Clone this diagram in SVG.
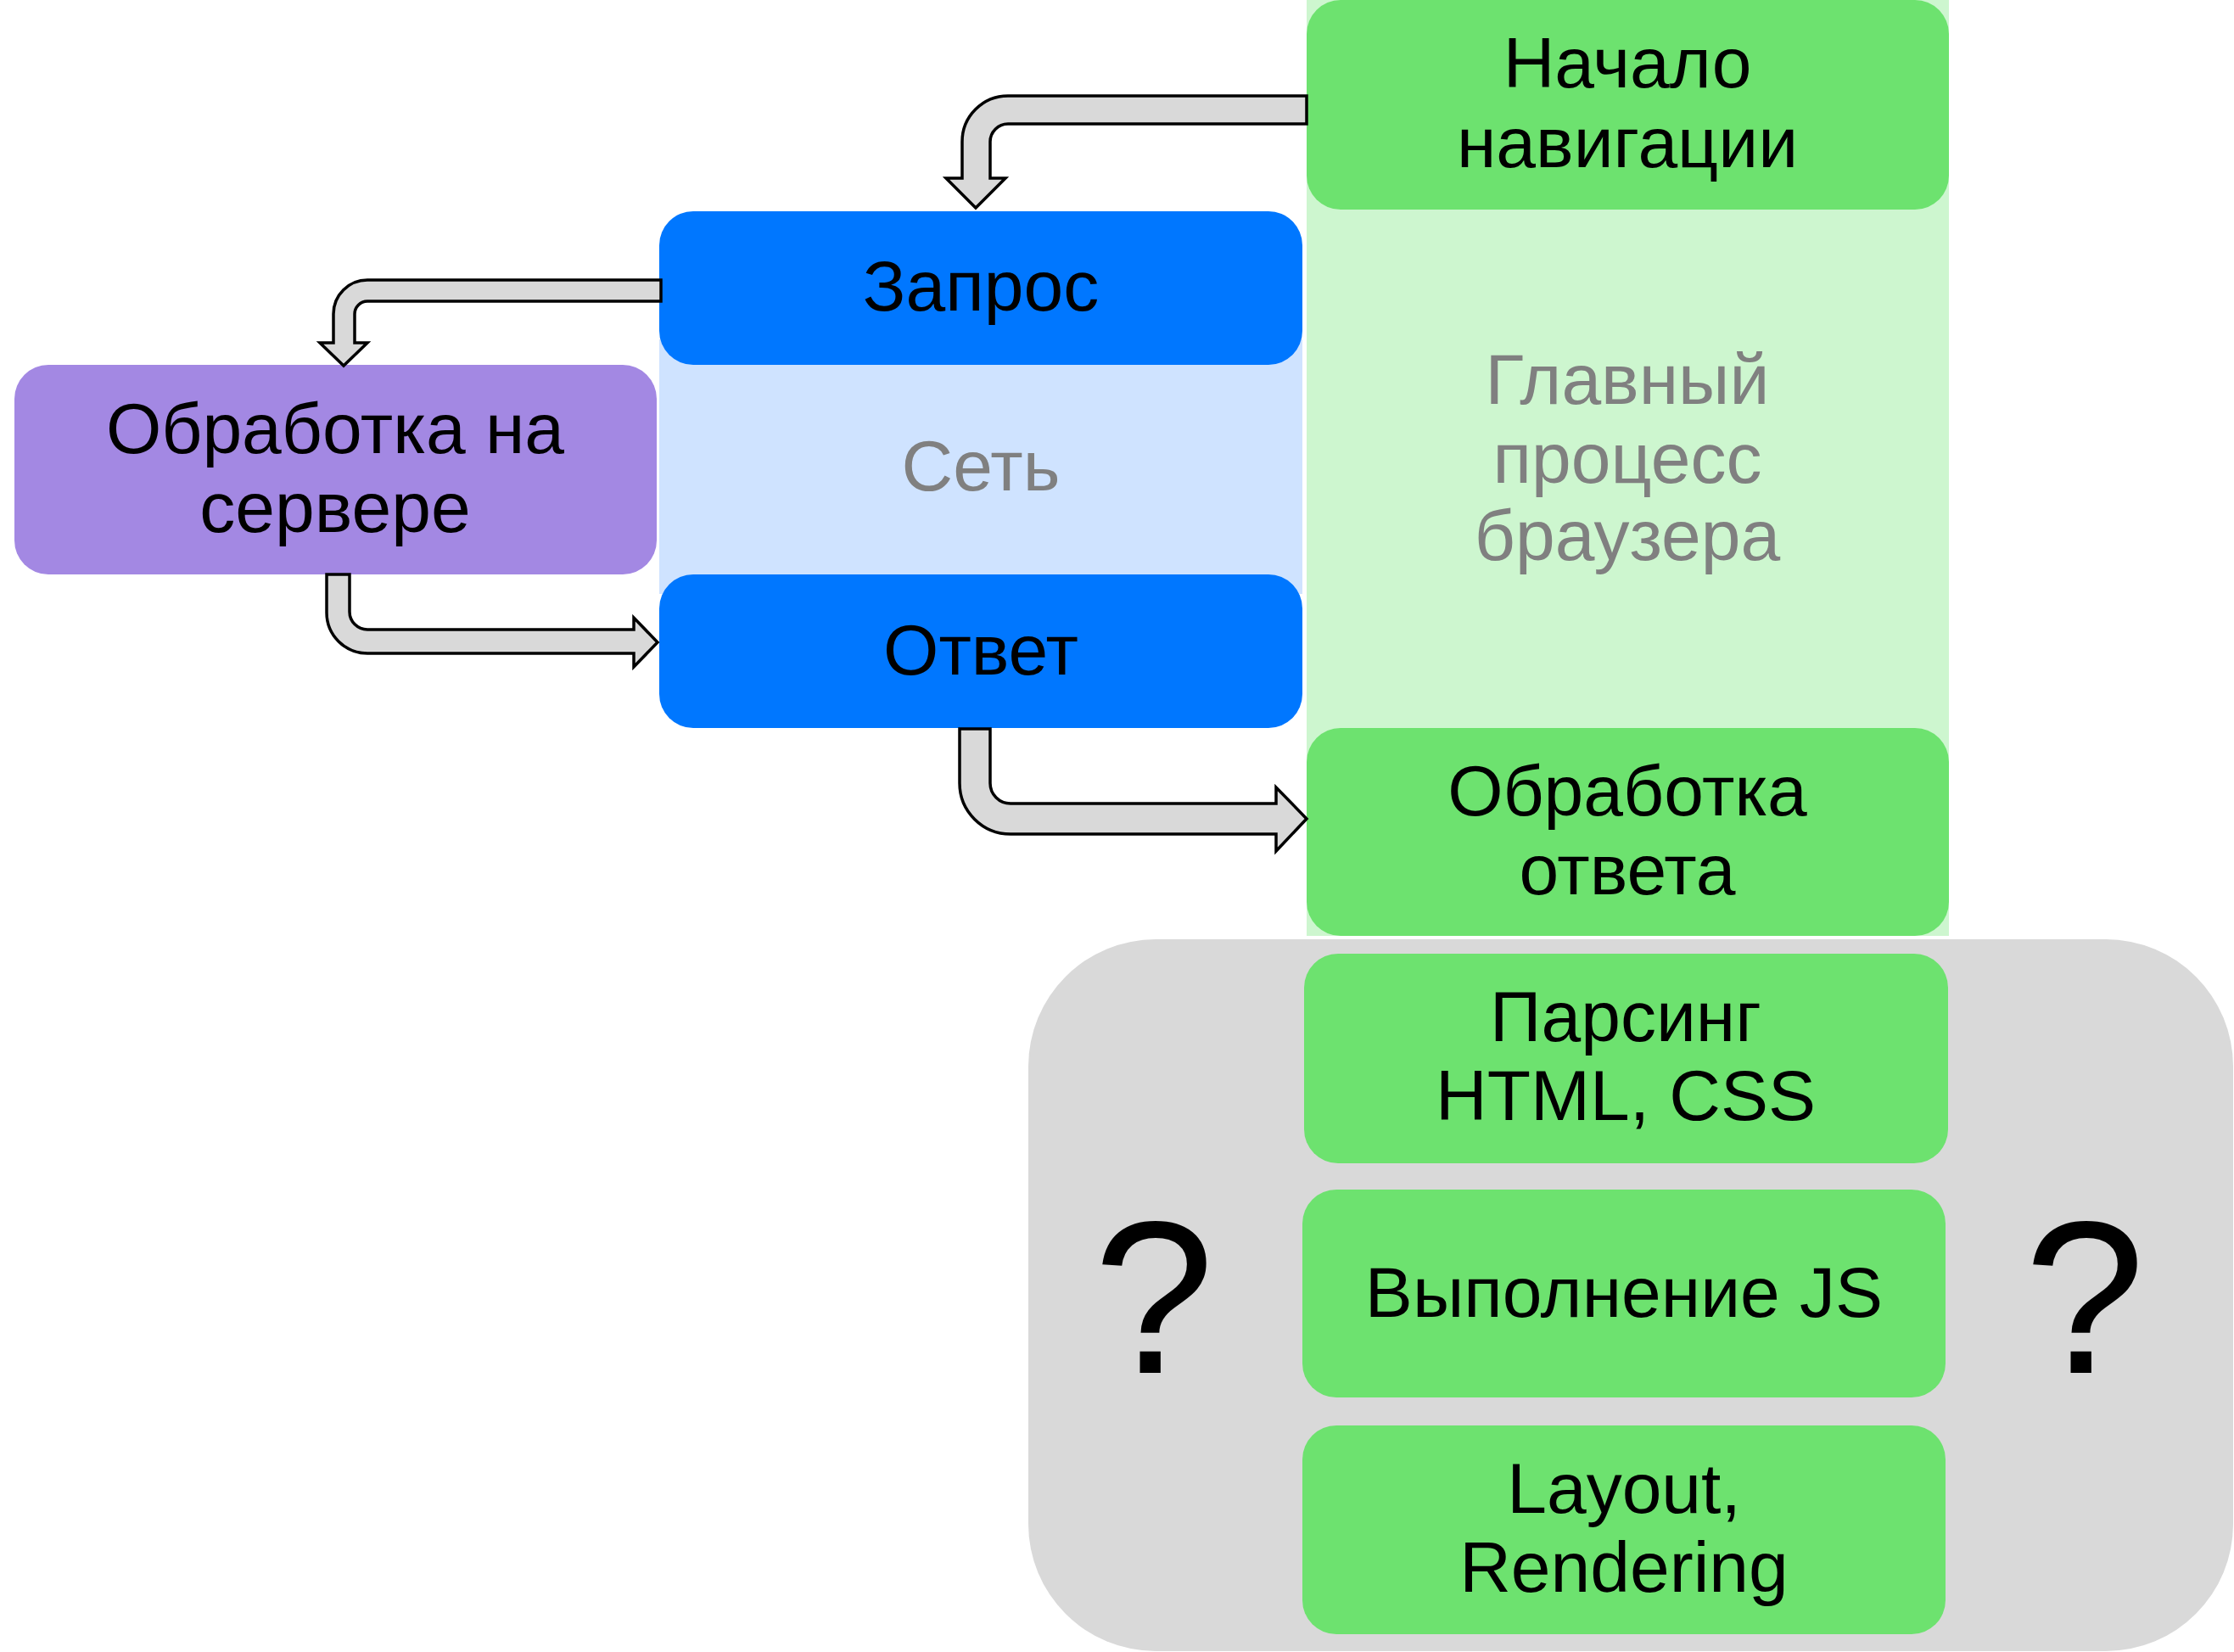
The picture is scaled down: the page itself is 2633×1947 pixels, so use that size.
<svg xmlns="http://www.w3.org/2000/svg" width="2633" height="1947" viewBox="0 0 2633 1947">
<style>
text{font-family:"Liberation Sans",Arial,sans-serif;font-size:84px;text-anchor:middle;fill:#000}
.sub{fill:#808080}
.g{fill:#6DE26F}
.b{fill:#0077FF}
.arrow{fill:#D9D9D9;stroke:#000;stroke-width:3.5;stroke-linejoin:miter}
.q{font-size:256px}
</style>
<rect width="2633" height="1947" fill="#fff"/>
<g id="bg-browser"><rect x="1540" y="0" width="757" height="1103" fill="#CDF6CF"/></g>
<g id="bg-network"><rect x="777" y="400" width="758" height="300" fill="#CFE3FF"/></g>
<g id="bg-unknown"><rect x="1212" y="1107" width="1420" height="839" rx="150" ry="150" fill="#D9D9D9"/></g>
<g id="label-browser"><text class="sub" x="1918" y="476">Главный</text><text class="sub" x="1918" y="569">процесс</text><text class="sub" x="1918" y="660">браузера</text></g>
<g id="label-network"><text class="sub" x="1156" y="578">Сеть</text></g>
<g id="n-start"><rect class="g" x="1540" y="0" width="757" height="247" rx="40"/><text x="1918" y="103">Начало</text><text x="1918" y="197">навигации</text></g>
<g id="n-request"><rect class="b" x="777" y="249" width="758" height="181" rx="40"/><text x="1156" y="366">Запрос</text></g>
<g id="n-server"><rect x="17" y="430" width="757" height="247" rx="40" fill="#A388E3"/><text x="395" y="534">Обработка на</text><text x="395" y="627">сервере</text></g>
<g id="n-response"><rect class="b" x="777" y="677" width="758" height="181" rx="40"/><text x="1156" y="795">Ответ</text></g>
<g id="n-handle"><rect class="g" x="1540" y="858" width="757" height="245" rx="40"/><text x="1918" y="961">Обработка</text><text x="1918" y="1054">ответа</text></g>
<g id="n-parse"><rect class="g" x="1537" y="1124" width="759" height="247" rx="40"/><text x="1916" y="1227">Парсинг</text><text x="1916" y="1320">HTML, CSS</text></g>
<g id="n-js"><rect class="g" x="1535" y="1402" width="758" height="245" rx="40"/><text x="1914" y="1552">Выполнение JS</text></g>
<g id="n-layout"><rect class="g" x="1535" y="1680" width="758" height="246" rx="40"/><text x="1914" y="1783">Layout,</text><text x="1914" y="1876">Rendering</text></g>
<g id="q-left"><text class="q" x="1360" y="1618">?</text></g>
<g id="q-right"><text class="q" x="2457" y="1618">?</text></g>
<g id="connectors">
<path class="arrow" d="M1540,113 H1188 A54,54 0 0 0 1134,167 V210 H1115 L1150,245 L1185,210 H1167 V167 A21,21 0 0 1 1188,146 H1540 Z"/>
<path class="arrow" d="M779,330 H433 A40,40 0 0 0 393,370 V404 H377 L405,431 L433,404 H418 V370 A15,15 0 0 1 433,355 H779 Z"/>
<path class="arrow" d="M385,677 V722 A48,48 0 0 0 433,770 H747 V786 L775,757 L747,728 V742 H433 A21,21 0 0 1 412,721 V677 Z"/>
<path class="arrow" d="M1131,859 V923 A60,60 0 0 0 1191,983 H1504 V1003 L1540,965 L1504,928 V947 H1191 A24,24 0 0 1 1167,923 V859 Z"/>
</g>
</svg>
